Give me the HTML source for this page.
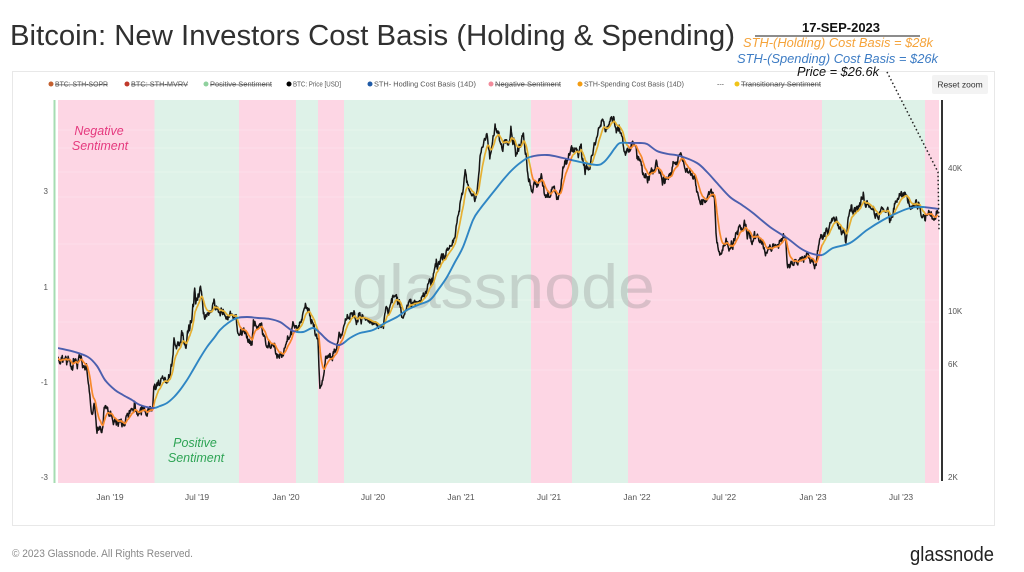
<!DOCTYPE html>
<html>
<head>
<meta charset="utf-8">
<style>
html,body{margin:0;padding:0;background:#fff;}
svg{display:block;font-family:"Liberation Sans",sans-serif;}
.lg{font-size:7px;fill:#555;}
.st{text-decoration:line-through;}
.ax{font-size:8px;fill:#555;}
</style>
</head>
<body>
<svg id="c" width="1024" height="572" viewBox="0 0 1024 572" xmlns="http://www.w3.org/2000/svg">
<defs>
  <clipPath id="plot"><rect x="58" y="100" width="881" height="383"/></clipPath>
  <clipPath id="pinkC">
    <rect x="58" y="100" width="96.5" height="383"/>
    <rect x="239" y="100" width="57" height="383"/>
    <rect x="318" y="100" width="26" height="383"/>
    <rect x="531" y="100" width="41" height="383"/>
    <rect x="628" y="100" width="194" height="383"/>
    <rect x="925" y="100" width="14" height="383"/>
  </clipPath>
  <clipPath id="greenC">
    <rect x="154.5" y="100" width="84.5" height="383"/>
    <rect x="296" y="100" width="22" height="383"/>
    <rect x="344" y="100" width="187" height="383"/>
    <rect x="572" y="100" width="56" height="383"/>
    <rect x="822" y="100" width="103" height="383"/>
  </clipPath>
</defs>

<!-- title -->
<text x="10" y="45" font-size="28.5" fill="#303030" textLength="725" lengthAdjust="spacingAndGlyphs">Bitcoin: New Investors Cost Basis (Holding &amp; Spending)</text>

<!-- annotation -->
<text x="802" y="32" font-size="12.5" font-weight="bold" fill="#111" textLength="78" lengthAdjust="spacingAndGlyphs">17-SEP-2023</text>
<line x1="755" y1="36" x2="920" y2="36" stroke="#666" stroke-width="1.5"/>
<text x="743" y="47" font-size="13" font-style="italic" fill="#f5a33a" textLength="190" lengthAdjust="spacingAndGlyphs">STH-(Holding) Cost Basis = $28k</text>
<text x="737" y="63" font-size="13" font-style="italic" fill="#3d7cc4" textLength="201" lengthAdjust="spacingAndGlyphs">STH-(Spending) Cost Basis = $26k</text>

<!-- chart box -->
<rect x="12.5" y="71.5" width="982" height="454" fill="#fff" stroke="#e8e8e8" stroke-width="1"/>

<text x="797" y="76" font-size="13" font-style="italic" fill="#111" textLength="82" lengthAdjust="spacingAndGlyphs">Price = $26.6k</text>

<!-- legend -->
<circle cx="51" cy="84" r="2.5" fill="#c4602f"/><text class="lg st" x="55" y="86.5" textLength="53" lengthAdjust="spacingAndGlyphs">BTC: STH-SOPR</text>
<circle cx="127" cy="84" r="2.5" fill="#c0392b"/><text class="lg st" x="131" y="86.5" textLength="57" lengthAdjust="spacingAndGlyphs">BTC: STH-MVRV</text>
<circle cx="206" cy="84" r="2.5" fill="#8fd19e"/><text class="lg st" x="210" y="86.5" textLength="62" lengthAdjust="spacingAndGlyphs">Positive Sentiment</text>
<circle cx="289" cy="84" r="2.5" fill="#000"/><text class="lg" x="293" y="86.5" textLength="48" lengthAdjust="spacingAndGlyphs">BTC: Price [USD]</text>
<circle cx="370" cy="84" r="2.5" fill="#1f5aa6"/><text class="lg" x="374" y="86.5" textLength="102" lengthAdjust="spacingAndGlyphs">STH- Hodling Cost Basis (14D)</text>
<circle cx="491" cy="84" r="2.5" fill="#f28b9b"/><text class="lg st" x="495" y="86.5" textLength="66" lengthAdjust="spacingAndGlyphs">Negative Sentiment</text>
<circle cx="580" cy="84" r="2.5" fill="#f39c12"/><text class="lg" x="584" y="86.5" textLength="100" lengthAdjust="spacingAndGlyphs">STH-Spending Cost Basis (14D)</text>
<text class="lg" x="717" y="86.5">---</text>
<circle cx="737" cy="84" r="2.5" fill="#f0c419"/><text class="lg st" x="741" y="86.5" textLength="80" lengthAdjust="spacingAndGlyphs">Transitionary Sentiment</text>

<!-- reset zoom -->
<rect x="932" y="75" width="56" height="19" rx="2" fill="#f3f3f3"/>
<text x="960" y="87.5" font-size="8.5" fill="#333" text-anchor="middle">Reset zoom</text>

<!-- bands -->
<g>
  <rect x="58" y="100" width="96.5" height="383" fill="#fdd6e4"/>
  <rect x="154.5" y="100" width="84.5" height="383" fill="#def2e8"/>
  <rect x="239" y="100" width="57" height="383" fill="#fdd6e4"/>
  <rect x="296" y="100" width="22" height="383" fill="#def2e8"/>
  <rect x="318" y="100" width="26" height="383" fill="#fdd6e4"/>
  <rect x="344" y="100" width="187" height="383" fill="#def2e8"/>
  <rect x="531" y="100" width="41" height="383" fill="#fdd6e4"/>
  <rect x="572" y="100" width="56" height="383" fill="#def2e8"/>
  <rect x="628" y="100" width="194" height="383" fill="#fdd6e4"/>
  <rect x="822" y="100" width="103" height="383" fill="#def2e8"/>
  <rect x="925" y="100" width="14" height="383" fill="#fdd6e4"/>
</g>
<!-- faint grid -->
<g stroke="#ffffff" stroke-opacity="0.22" stroke-width="1">
  <line x1="58" y1="130" x2="939" y2="130"/>
  <line x1="58" y1="148" x2="939" y2="148"/>
  <line x1="58" y1="172" x2="939" y2="172"/>
  <line x1="58" y1="197" x2="939" y2="197"/>
  <line x1="58" y1="244" x2="939" y2="244"/>
  <line x1="58" y1="300" x2="939" y2="300"/>
  <line x1="58" y1="322" x2="939" y2="322"/>
  <line x1="58" y1="370" x2="939" y2="370"/>
</g>

<!-- watermark -->
<text x="352" y="308" font-size="62" fill="#888" fill-opacity="0.3" textLength="303" lengthAdjust="spacingAndGlyphs">glassnode</text>

<!-- sentiment labels -->
<text x="99" y="135" font-size="12.5" font-style="italic" fill="#e5397e" text-anchor="middle">Negative</text>
<text x="100" y="150" font-size="12.5" font-style="italic" fill="#e5397e" text-anchor="middle">Sentiment</text>
<text x="195" y="447" font-size="12.5" font-style="italic" fill="#2ea455" text-anchor="middle">Positive</text>
<text x="196" y="462" font-size="12.5" font-style="italic" fill="#2ea455" text-anchor="middle">Sentiment</text>

<!-- series -->
<g id="series" clip-path="url(#plot)"></g>

<!-- axes -->
<line x1="54.5" y1="100" x2="54.5" y2="483" stroke="#a6dcb2" stroke-width="2"/>
<line x1="942" y1="100" x2="942" y2="481" stroke="#333" stroke-width="2"/>

<text class="ax" x="48" y="194" text-anchor="end">3</text>
<text class="ax" x="48" y="290" text-anchor="end">1</text>
<text class="ax" x="48" y="385" text-anchor="end">-1</text>
<text class="ax" x="48" y="480" text-anchor="end">-3</text>

<text class="ax" x="948" y="171">40K</text>
<text class="ax" x="948" y="314">10K</text>
<text class="ax" x="948" y="367">6K</text>
<text class="ax" x="948" y="480">2K</text>

<g class="ax" text-anchor="middle" style="font-size:8.5px">
  <text x="110" y="500">Jan '19</text>
  <text x="197" y="500">Jul '19</text>
  <text x="286" y="500">Jan '20</text>
  <text x="373" y="500">Jul '20</text>
  <text x="461" y="500">Jan '21</text>
  <text x="549" y="500">Jul '21</text>
  <text x="637" y="500">Jan '22</text>
  <text x="724" y="500">Jul '22</text>
  <text x="813" y="500">Jan '23</text>
  <text x="901" y="500">Jul '23</text>
</g>

<!-- dotted pointer -->
<polyline points="887,72 938,172 939,230" fill="none" stroke="#222" stroke-width="1.5" stroke-dasharray="1.5 2.5"/>

<!-- footer -->
<text x="12" y="557" font-size="11" fill="#888" textLength="181" lengthAdjust="spacingAndGlyphs">© 2023 Glassnode. All Rights Reserved.</text>
<text x="910" y="561" font-size="20" fill="#222" textLength="84" lengthAdjust="spacingAndGlyphs">glassnode</text>
</svg>

<script>
(function(){
var NS="http://www.w3.org/2000/svg";
var K=[["2018-09-14",6500],["2018-09-22",6700],["2018-10-01",6600],["2018-10-10",6550],["2018-10-11",6250],["2018-10-20",6450],["2018-11-01",6350],["2018-11-13",6300],["2018-11-15",5600],["2018-11-20",4600],["2018-11-25",3900],["2018-11-29",4250],["2018-12-07",3400],["2018-12-15",3200],["2018-12-20",4000],["2018-12-24",4000],["2018-12-31",3700],["2019-01-10",3600],["2019-01-20",3550],["2019-01-28",3450],["2019-02-08",3650],["2019-02-18",3900],["2019-03-01",3800],["2019-03-15",3950],["2019-03-31",4100],["2019-04-02",4900],["2019-04-15",5100],["2019-04-30",5300],["2019-05-10",6300],["2019-05-14",8000],["2019-05-17",7300],["2019-05-30",8600],["2019-06-06",7800],["2019-06-20",9500],["2019-06-26",12900],["2019-06-28",11000],["2019-07-10",12500],["2019-07-17",9700],["2019-07-25",9800],["2019-08-05",11800],["2019-08-15",10300],["2019-08-30",9600],["2019-09-10",10100],["2019-09-20",10200],["2019-09-25",8500],["2019-10-10",8600],["2019-10-23",7500],["2019-10-26",9500],["2019-11-10",8800],["2019-11-25",7100],["2019-12-05",7400],["2019-12-17",6650],["2019-12-31",7200],["2020-01-15",8800],["2020-01-31",9350],["2020-02-13",10300],["2020-02-25",9300],["2020-03-08",8000],["2020-03-12",4900],["2020-03-16",5000],["2020-03-25",6700],["2020-04-10",6900],["2020-04-29",8700],["2020-05-08",9900],["2020-05-20",9500],["2020-06-01",10200],["2020-06-15",9400],["2020-07-01",9200],["2020-07-20",9200],["2020-07-27",11000],["2020-08-15",11800],["2020-09-05",10200],["2020-09-20",10900],["2020-10-08",10900],["2020-10-21",12800],["2020-11-05",15500],["2020-11-20",18500],["2020-11-26",17000],["2020-12-01",19000],["2020-12-16",21300],["2020-12-27",26500],["2021-01-03",32000],["2021-01-08",40500],["2021-01-11",35500],["2021-01-22",32000],["2021-02-01",33500],["2021-02-08",46000],["2021-02-21",57000],["2021-02-28",45000],["2021-03-13",61000],["2021-03-25",51300],["2021-04-13",63500],["2021-04-25",49000],["2021-05-09",58000],["2021-05-12",49500],["2021-05-19",37000],["2021-05-23",34700],["2021-06-01",36600],["2021-06-15",40200],["2021-06-22",32500],["2021-07-06",34000],["2021-07-20",29800],["2021-07-30",42000],["2021-08-14",47000],["2021-08-22",49300],["2021-09-06",52600],["2021-09-07",46800],["2021-09-21",40600],["2021-10-01",48000],["2021-10-15",61500],["2021-10-20",66000],["2021-10-27",58500],["2021-11-08",67500],["2021-11-18",56900],["2021-11-28",57200],["2021-12-04",49000],["2021-12-14",48300],["2021-12-27",50700],["2022-01-05",43400],["2022-01-22",35000],["2022-02-10",43500],["2022-02-24",38300],["2022-03-07",38000],["2022-03-28",47100],["2022-04-11",39500],["2022-04-30",37600],["2022-05-09",30100],["2022-05-12",29000],["2022-05-31",31800],["2022-06-10",30000],["2022-06-13",22500],["2022-06-18",19000],["2022-06-30",19800],["2022-07-13",19300],["2022-07-30",23800],["2022-08-14",24300],["2022-08-26",20200],["2022-09-09",21400],["2022-09-20",18900],["2022-10-12",19100],["2022-10-29",20800],["2022-11-05",21300],["2022-11-09",15900],["2022-11-21",15800],["2022-12-14",17800],["2022-12-30",16550],["2023-01-08",17100],["2023-01-14",20900],["2023-01-29",23700],["2023-02-15",24300],["2023-02-25",23100],["2023-03-10",20100],["2023-03-14",24600],["2023-03-18",27400],["2023-03-31",28500],["2023-04-13",30400],["2023-04-20",28200],["2023-05-06",28800],["2023-05-12",26800],["2023-05-31",27200],["2023-06-15",25100],["2023-06-21",30000],["2023-07-13",31400],["2023-07-24",29200],["2023-08-08",29800],["2023-08-17",26600],["2023-08-29",27700],["2023-09-10",25800],["2023-09-17",26550]];
var DAY=86400000, T0=Date.UTC(2019,0,1);
function X(ms){return 110+(ms-T0)/(365.25*DAY)*175.8;}
function Yl(l){return 314.5-(l-4)*237.5;}
var seed=987654;
function rnd(){seed=(seed*1103515245+12345)%2147483648;return seed/2147483648;}
function gauss(){var s=0;for(var i=0;i<4;i++)s+=rnd();return (s-2)*1.732;}
var pts=[];var n=0;
for(var i=0;i<K.length-1;i++){
  var a=Date.parse(K[i][0]+"T00:00:00Z"),b=Date.parse(K[i+1][0]+"T00:00:00Z");
  var la=Math.log10(K[i][1]),lb=Math.log10(K[i+1][1]);
  var days=Math.round((b-a)/DAY);
  for(var d=0;d<days;d++){
    var f=d/days;var l=la+(lb-la)*f;
    n=0.8*n+0.011*gauss();
    var w=Math.min(1,Math.min(d,days-d)/2);
    pts.push([a+d*DAY,l+n*(0.35+0.65*w)]);
  }
}
var last=K[K.length-1];pts.push([Date.parse(last[0]+"T00:00:00Z"),Math.log10(last[1])]);
var dp="",dO="",e=pts[0][1];
for(var j=0;j<pts.length;j++){
  var x=X(pts[j][0]).toFixed(1);
  dp+=(j?"L":"M")+x+" "+Yl(pts[j][1]).toFixed(1);
  e=e+0.12*(pts[j][1]-e);
  dO+=(j?"L":"M")+x+" "+Yl(e).toFixed(1);
}
var B=[[58,348],[75,352],[88,357],[97,366],[105,380],[115,390],[123,395],[132,400],[140,405],[153,408],[160,406],[167,403],[174,397],[180,390],[187,380],[193,370],[200,358],[207,347],[214,338],[220,330],[228,323],[237,318],[247,317],[258,318],[270,319],[280,322],[287,327],[293,331],[303,332],[313,328],[320,333],[325,338],[330,342],[340,345],[350,338],[360,333],[373,330],[385,323],[397,317],[407,310],[418,305],[430,300],[438,290],[447,277],[455,262],[463,247],[473,220],[480,209],[487,200],[495,190],[503,180],[511,171],[520,163],[530,157],[547,155],[563,158],[580,162],[597,165],[604,162],[610,155],[615,148],[620,143],[630,143],[640,143],[647,144],[657,151],[668,154],[680,156],[697,163],[707,172],[717,183],[730,197],[742,205],[753,213],[770,227],[787,238],[800,248],[810,253],[822,255],[833,248],[850,243],[867,230],[883,220],[897,213],[910,208],[923,207],[939,209]];
var db="M"+B[0][0]+" "+B[0][1];
for(var k=0;k<B.length-1;k++){
  var p0=B[Math.max(0,k-1)],p1=B[k],p2=B[k+1],p3=B[Math.min(B.length-1,k+2)];
  var c1x=p1[0]+(p2[0]-p0[0])/6,c1y=p1[1]+(p2[1]-p0[1])/6;
  var c2x=p2[0]-(p3[0]-p1[0])/6,c2y=p2[1]-(p3[1]-p1[1])/6;
  db+="C"+c1x.toFixed(1)+" "+c1y.toFixed(1)+" "+c2x.toFixed(1)+" "+c2y.toFixed(1)+" "+p2[0]+" "+p2[1];
}
var g=document.getElementById("series");
function path(d,color,w,clip){
  var p=document.createElementNS(NS,"path");
  p.setAttribute("d",d);p.setAttribute("fill","none");p.setAttribute("stroke",color);
  p.setAttribute("stroke-width",w);p.setAttribute("stroke-linejoin","round");
  if(clip){var gg=document.createElementNS(NS,"g");gg.setAttribute("clip-path","url(#"+clip+")");gg.appendChild(p);g.appendChild(gg);}
  else g.appendChild(p);
}
path(dp,"#151515",1.5,null);
path(dO,"#f7892b",1.7,"pinkC");
path(dO,"#e6b032",1.7,"greenC");
path(db,"#4c5fae",1.9,"pinkC");
path(db,"#2f86c4",1.9,"greenC");
})();
</script>
</body>
</html>
